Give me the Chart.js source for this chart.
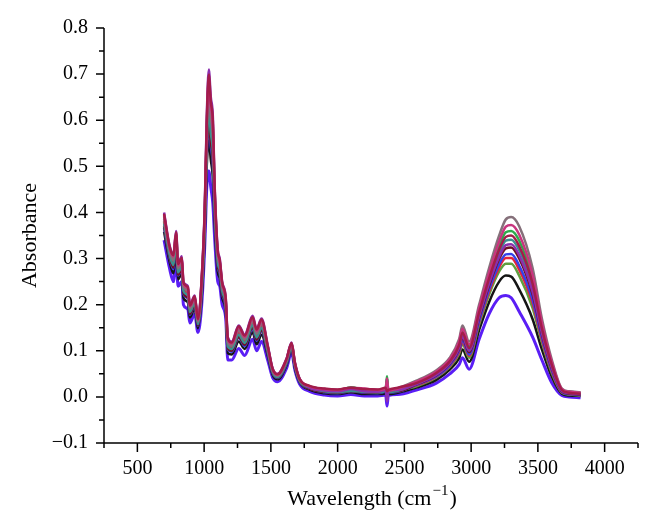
<!DOCTYPE html>
<html>
<head>
<meta charset="utf-8">
<script src="https://cdn.jsdelivr.net/npm/chart.js@4/dist/chart.umd.min.js"></script>
<style>
  html, body { margin: 0; padding: 0; background: #fff; }
  canvas { display: block; }
</style>
</head>
<body>
<canvas id="ftirChart" width="658" height="529"></canvas>
<script>
// wavenumbers (cm-1) of the read-off points
const wavenumber = [700, 740, 770, 790, 805, 833, 845, 878, 893, 930,
  953, 982, 1005, 1020, 1035, 1050, 1065, 1080, 1102, 1117,
  1135, 1162, 1177, 1207, 1259, 1304, 1363, 1393, 1430, 1476,
  1513, 1550, 1617, 1655, 1680, 1715, 1790, 1900, 2000, 2100,
  2200, 2300, 2360, 2370, 2380, 2450, 2590, 2740, 2840, 2910,
  2935, 2985, 3060, 3135, 3210, 3260, 3300, 3360, 3460, 3530,
  3605, 3680, 3735, 3820];

// absorbance of each spectrum
const sMaroon = [.397,.328,.307,.357,.288,.302,.248,.238,.198,.218,
  .169,.257,.410,.600,.699,.640,.601,.445,.317,.297,
  .248,.213,.128,.118,.153,.133,.173,.146,.168,.111,
  .061,.049,.082,.117,.074,.039,.024,.018,.016,.020,
  .017,.016,.020,.012,.015,.020,.030,.052,.077,.112,
  .139,.106,.183,.257,.319,.347,.350,.327,.246,.149,
  .069,.015,.009,.007];
const sPink = [.394,.325,.304,.354,.285,.300,.245,.235,.196,.216,
  .167,.254,.405,.592,.688,.630,.591,.439,.313,.294,
  .245,.210,.125,.116,.150,.130,.171,.143,.165,.110,
  .060,.048,.081,.116,.073,.039,.023,.017,.015,.020,
  .018,.015,.019,.040,.014,.018,.033,.055,.082,.120,
  .148,.114,.193,.270,.337,.369,.373,.352,.265,.161,
  .075,.017,.011,.009];
const sPurple = [.400,.330,.310,.360,.290,.305,.250,.240,.200,.220,
  .170,.260,.415,.610,.710,.650,.610,.450,.320,.300,
  .250,.215,.130,.120,.155,.135,.176,.148,.170,.113,
  .062,.050,.083,.118,.075,.040,.020,.014,.012,.017,
  .012,.011,.015,-.010,.012,.015,.028,.048,.073,.106,
  .131,.100,.175,.246,.304,.329,.331,.307,.229,.139,
  .063,.013,.008,.006];
const sGray = [.386,.319,.296,.346,.279,.292,.239,.229,.191,.211,
  .163,.246,.395,.575,.659,.605,.566,.425,.304,.286,
  .239,.205,.119,.111,.144,.125,.164,.137,.159,.105,
  .057,.046,.078,.113,.071,.037,.023,.017,.015,.019,
  .016,.015,.019,.030,.014,.019,.035,.058,.085,.125,
  .155,.120,.200,.280,.350,.385,.390,.370,.280,.170,
  .080,.018,.012,.010];
const sGreen = [.391,.323,.301,.351,.283,.297,.243,.233,.194,.214,
  .166,.251,.400,.585,.677,.620,.582,.434,.310,.291,
  .243,.208,.123,.114,.148,.128,.168,.141,.163,.108,
  .059,.047,.080,.115,.072,.038,.022,.016,.014,.021,
  .015,.014,.018,.045,.013,.017,.032,.053,.079,.116,
  .143,.110,.187,.263,.327,.357,.360,.339,.255,.155,
  .072,.015,.010,.008];
const sTeal = [.376,.310,.286,.336,.270,.283,.230,.220,.184,.204,
  .158,.236,.380,.548,.622,.572,.534,.405,.292,.276,
  .230,.197,.110,.104,.135,.117,.156,.129,.150,.100,
  .054,.043,.075,.109,.068,.035,.020,.012,.010,.013,
  .011,.010,.013,.040,.010,.013,.029,.050,.075,.110,
  .135,.103,.179,.252,.312,.339,.341,.318,.238,.145,
  .066,.014,.009,.007];
const sDarkRed = [.370,.305,.280,.330,.265,.278,.225,.215,.180,.200,
  .155,.230,.372,.532,.600,.552,.515,.393,.285,.270,
  .225,.193,.105,.100,.130,.113,.151,.124,.145,.097,
  .052,.042,.073,.107,.067,.034,.018,.011,.009,.012,
  .010,.009,.012,.000,.009,.012,.027,.047,.072,.104,
  .128,.097,.172,.242,.299,.322,.324,.300,.223,.136,
  .061,.012,.007,.005];
const sBlue = [.367,.303,.277,.327,.263,.275,.223,.213,.178,.198,
  .154,.227,.367,.525,.589,.543,.506,.388,.282,.267,
  .223,.190,.103,.098,.128,.110,.148,.122,.143,.095,
  .051,.041,.071,.105,.066,.033,.018,.010,.008,.012,
  .009,.008,.011,.005,.008,.011,.026,.045,.069,.100,
  .123,.092,.165,.234,.288,.309,.310,.285,.211,.129,
  .057,.011,.006,.004];
const sRed = [.382,.315,.292,.342,.275,.288,.235,.225,.188,.208,
  .161,.242,.388,.562,.644,.591,.553,.416,.299,.282,
  .235,.202,.115,.108,.140,.122,.161,.134,.155,.103,
  .056,.045,.077,.111,.070,.036,.021,.015,.013,.016,
  .014,.012,.016,.030,.012,.015,.025,.044,.067,.097,
  .119,.089,.162,.229,.281,.301,.301,.276,.204,.124,
  .055,.010,.006,.004];
const sOlive = [.379,.313,.289,.339,.273,.286,.233,.223,.186,.206,
  .160,.239,.384,.555,.633,.582,.544,.410,.296,.279,
  .233,.199,.113,.106,.138,.119,.158,.131,.153,.101,
  .055,.044,.076,.110,.069,.036,.020,.013,.012,.018,
  .012,.011,.014,.035,.011,.014,.023,.042,.065,.093,
  .114,.085,.157,.222,.272,.289,.289,.263,.193,.118,
  .051,.009,.005,.003];
const sBlack = [.358,.295,.268,.318,.255,.267,.215,.205,.172,.192,
  .149,.218,.355,.502,.556,.514,.477,.371,.271,.258,
  .215,.184,.095,.092,.120,.104,.140,.114,.135,.090,
  .048,.038,.068,.102,.063,.032,.016,.008,.006,.010,
  .006,.006,.008,.025,.006,.009,.020,.037,.059,.084,
  .103,.076,.145,.206,.250,.263,.261,.233,.169,.103,
  .043,.007,.003,.002];
const sViolet = [.340,.280,.250,.300,.240,.250,.200,.190,.160,.180,
  .140,.200,.330,.455,.490,.455,.420,.338,.250,.240,
  .200,.170,.080,.080,.105,.090,.125,.100,.120,.080,
  .042,.033,.062,.095,.058,.028,.012,.004,.002,.005,
  .002,.002,.004,-.020,.003,.005,.015,.030,.050,.070,
  .085,.060,.125,.180,.215,.220,.215,.185,.130,.080,
  .030,.003,.000,-.002];

// tick labels
const xTicks = [500, 1000, 1500, 2000, 2500, 3000, 3500, 4000];
const yTicks = [-0.1, 0, 0.1, 0.2, 0.3, 0.4, 0.5, 0.6, 0.7, 0.8];

const serif = '"Liberation Serif", "DejaVu Serif", serif';

function spectrum(values, color, width) {
  return {
    data: wavenumber.map((w, i) => ({ x: w, y: values[i] })),
    borderColor: color,
    borderWidth: width || 2.5,
    pointRadius: 0,
    fill: false,
    cubicInterpolationMode: "monotone",
  };
}

// ticks, axis lines and x title (with superscript)
const axisDecor = {
  id: "axisDecor",
  afterDraw(chart) {
    const { ctx, chartArea: a, scales: { x, y } } = chart;
    ctx.save();
    ctx.strokeStyle = "#000";
    ctx.lineWidth = 1.5;
    ctx.beginPath();
    ctx.moveTo(a.left, a.top);
    ctx.lineTo(a.left, a.bottom);
    ctx.lineTo(a.right, a.bottom);
    for (let v = 250; v <= 4250; v += 250) {
      const px = x.getPixelForValue(v);
      const len = v % 500 === 0 ? 9 : 5;
      ctx.moveTo(px, a.bottom);
      ctx.lineTo(px, a.bottom + len);
    }
    for (let i = -2; i <= 16; i++) {
      const py = y.getPixelForValue(i * 0.05);
      const len = i % 2 === 0 ? 8 : 5;
      ctx.moveTo(a.left, py);
      ctx.lineTo(a.left - len, py);
    }
    ctx.stroke();

    // Wavelength (cm^-1)
    const main = "Wavelength (cm";
    const sup = "\u22121";
    ctx.fillStyle = "#000";
    ctx.textBaseline = "alphabetic";
    ctx.font = "22px " + serif;
    const w1 = ctx.measureText(main).width;
    const w3 = ctx.measureText(")").width;
    ctx.font = "15px " + serif;
    const w2 = ctx.measureText(sup).width;
    let x0 = (a.left + a.right) / 2 - (w1 + w2 + w3) / 2;
    ctx.font = "22px " + serif;
    ctx.fillText(main, x0, 505);
    ctx.font = "15px " + serif;
    ctx.fillText(sup, x0 + w1 + 1, 495);
    ctx.font = "22px " + serif;
    ctx.fillText(")", x0 + w1 + w2 + 2, 505);
    ctx.restore();
  },
};

new Chart(document.getElementById("ftirChart"), {
  type: "line",
  data: {
    datasets: [
      spectrum(sMaroon, "#a31c4a"),
      spectrum(sPink, "#c8357e"),
      spectrum(sPurple, "#8b2fae"),
      spectrum(sGray, "#85707a"),
      spectrum(sGreen, "#2eaa4c"),
      spectrum(sTeal, "#3a9090"),
      spectrum(sDarkRed, "#701024"),
      spectrum(sBlue, "#3342ea"),
      spectrum(sRed, "#e2223e"),
      spectrum(sOlive, "#5f9e3f"),
      spectrum(sBlack, "#151515"),
      spectrum(sViolet, "#5a1ef5", 3),
    ],
  },
  options: {
    responsive: false,
    animation: false,
    devicePixelRatio: 1,
    layout: { padding: { top: 20, right: 20, bottom: 0, left: 0 } },
    plugins: { legend: { display: false }, tooltip: { enabled: false } },
    scales: {
      x: {
        type: "linear",
        min: 250,
        max: 4250,
        grid: { display: false, drawTicks: false },
        border: { display: false },
        ticks: {
          padding: 14,
          color: "#000",
          font: { family: serif, size: 20 },
          maxRotation: 0,
          callback: (v) => String(v),
        },
        afterBuildTicks: (s) => {
          s.ticks = xTicks.map((v) => ({ value: v }));
        },
        afterFit: (s) => { s.height = 86; },
      },
      y: {
        min: -0.1,
        max: 0.8,
        grid: { display: false, drawTicks: false },
        border: { display: false },
        ticks: {
          padding: 16,
          color: "#000",
          font: { family: serif, size: 20 },
          callback: (v) => (v < -1e-9 ? "\u2212" : "") + Math.abs(v).toFixed(1),
        },
        afterBuildTicks: (s) => {
          s.ticks = yTicks.map((v) => ({ value: v }));
        },
        afterFit: (s) => { s.width = 104; },
        title: {
          display: true,
          text: "Absorbance",
          color: "#000",
          font: { family: serif, size: 22 },
          padding: { top: 17, bottom: 0 },
        },
      },
    },
  },
  plugins: [axisDecor],
});
</script>
</body>
</html>
